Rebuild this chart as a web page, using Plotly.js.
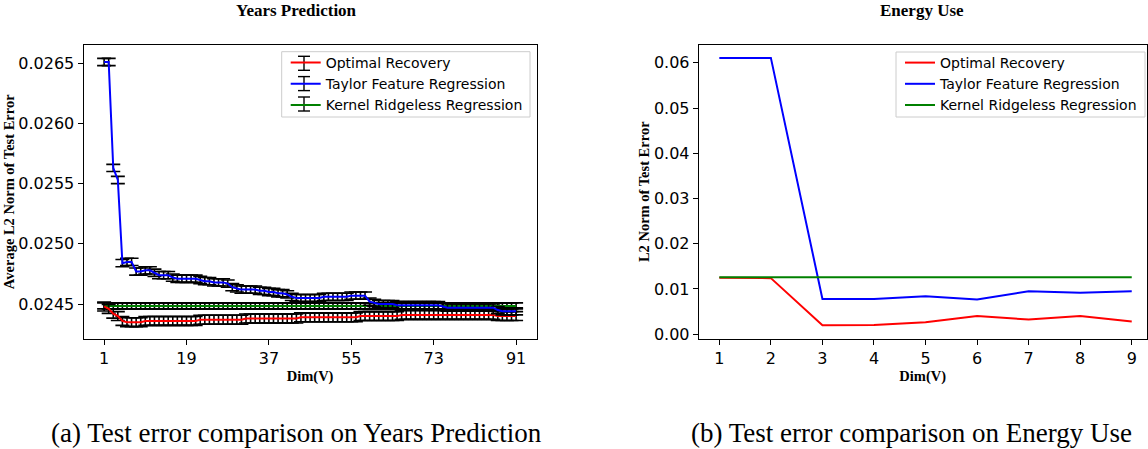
<!DOCTYPE html>
<html>
<head>
<meta charset="utf-8">
<script src="https://cdn.plot.ly/plotly-3.0.1.min.js"></script>
<style>html,body{margin:0;padding:0;background:#fff;}#chart{width:1148px;height:449px;}</style>
</head>
<body>
<div id="chart"></div>
<script>
// ---------- Left panel: Years Prediction ----------
const dimsYears = [1,2,3,4,5,6,7,8,9,10,11,12,13,14,15,16,17,18,19,20,21,22,23,24,25,26,27,28,29,30,
  31,32,33,34,35,36,37,38,39,40,41,42,43,44,45,46,47,48,49,50,51,52,53,54,55,56,57,58,59,60,
  61,62,63,64,65,66,67,68,69,70,71,72,73,74,75,76,77,78,79,80,81,82,83,84,85,86,87,88,89,90,91];

const optimalYears = [0.02448,0.02446,0.02442,0.02440,0.02436,0.02435,
  0.02435,0.02435,0.02435,0.02436,0.02436,0.02436,0.02436,0.02436,0.02436,0.02436,
  0.02436,0.02436,0.02436,0.02436,0.02436,0.02437,0.02437,0.02437,0.02437,0.02437,
  0.02437,0.02437,0.02437,0.02437,0.02437,0.02438,0.02438,0.02438,0.02438,0.02438,
  0.02438,0.02438,0.02438,0.02438,0.02438,0.02438,0.02438,0.02439,0.02439,0.02439,
  0.02439,0.02439,0.02439,0.02439,0.02439,0.02439,0.02439,0.02439,0.02439,0.02439,
  0.02440,0.02440,0.02440,0.02440,0.02440,0.02440,0.02440,0.02440,0.02440,0.02441,
  0.02441,0.02441,0.02441,0.02441,0.02441,0.02441,0.02441,0.02441,0.02441,0.02441,
  0.02441,0.02441,0.02441,0.02441,0.02441,0.02441,0.02441,0.02441,0.02441,0.02441,
  0.02440,0.02440,0.02440,0.02440,0.02440];

const taylorYears = [0.02651,0.02651,0.02563,0.02553,0.02484,0.02485,0.02485,0.02477,0.02477,0.02478,
  0.02478,0.02476,0.02474,0.02474,0.02474,0.02472,0.02471,0.02471,0.02471,0.02471,
  0.02471,0.02470,0.02469,0.02469,0.02468,0.02468,0.02468,0.02467,0.02464,0.02463,
  0.02462,0.02462,0.02462,0.02462,0.02461,0.02461,0.02460,0.02460,0.02459,0.02459,
  0.02458,0.02456,0.02455,0.02455,0.02455,0.02455,0.02455,0.02455,0.02456,0.02456,
  0.02456,0.02456,0.02456,0.02456,0.02457,0.02457,0.02457,0.02457,0.02452,0.02451,
  0.02450,0.02450,0.02450,0.02450,0.02449,0.02449,0.02449,0.02449,0.02449,0.02449,
  0.02449,0.02449,0.02449,0.02449,0.02448,0.02447,0.02447,0.02447,0.02447,0.02447,
  0.02447,0.02447,0.02447,0.02447,0.02447,0.02447,0.02445,0.02444,0.02444,0.02444,0.02444];

const kernelYears = [0.024485,0.024485,0.024485,0.024485,0.024485,0.024485,0.024485,0.024485,0.024485,0.024485,
  0.024485,0.024485,0.024485,0.024485,0.024485,0.024485,0.024485,0.024485,0.024485,0.024485,
  0.024485,0.024485,0.024485,0.024485,0.024485,0.024485,0.024485,0.024485,0.024485,0.024485,
  0.024485,0.024485,0.024485,0.024485,0.024485,0.024485,0.024485,0.024485,0.024485,0.024485,
  0.024485,0.024485,0.024485,0.024485,0.024485,0.024485,0.024485,0.024485,0.024485,0.024485,
  0.024485,0.024485,0.024485,0.024485,0.024485,0.024485,0.024485,0.024485,0.024485,0.024485,
  0.024485,0.024485,0.024485,0.024485,0.024485,0.024485,0.024485,0.024485,0.024485,0.024485,
  0.024485,0.024485,0.024485,0.024485,0.024485,0.024485,0.024485,0.024485,0.024485,0.024485,
  0.024485,0.024485,0.024485,0.024485,0.024485,0.024485,0.024485,0.024485,0.024485,0.024485,0.024485];

// error bar half-lengths (std)
const optimalErr = 0.000037;
const taylorErr = 0.000030;
const kernelErr = 0.000025;

const yearsXTicks = [1,19,37,55,73,91];
const yearsYTicks = [0.0245,0.0250,0.0255,0.0260,0.0265];

// ---------- Right panel: Energy Use ----------
const dimsEnergy = [1,2,3,4,5,6,7,8,9];
const optimalEnergy = [0.0125,0.0124,0.0020,0.00205,0.00265,0.0040,0.00325,0.0040,0.0028];
const taylorEnergy  = [0.0611,0.0611,0.0078,0.0078,0.0084,0.00767,0.0095,0.00915,0.0095];
const kernelEnergy  = [0.0126,0.0126,0.0126,0.0126,0.0126,0.0126,0.0126,0.0126,0.0126];
const energyYTicks = [0.00,0.01,0.02,0.03,0.04,0.05,0.06];

const names = ['Optimal Recovery','Taylor Feature Regression','Kernel Ridgeless Regression'];
const colors = ['#ff0000','#0000ff','#008000'];

function errTrace(x, y, err, name, color, rank) {
  return {
    x: x, y: y, name: name, type: 'scatter', mode: 'lines',
    line: {color: color, width: 2},
    error_y: {type: 'constant', value: err, color: '#000', thickness: 1.6, width: 7},
    xaxis: 'x', yaxis: 'y', legend: 'legend', legendrank: rank
  };
}
function lineTrace(x, y, name, color) {
  return {
    x: x, y: y, name: name, type: 'scatter', mode: 'lines',
    line: {color: color, width: 2},
    xaxis: 'x2', yaxis: 'y2', legend: 'legend2'
  };
}

const data = [
  errTrace(dimsYears, kernelYears, kernelErr, names[2], colors[2], 3),
  errTrace(dimsYears, optimalYears, optimalErr, names[0], colors[0], 1),
  errTrace(dimsYears, taylorYears, taylorErr, names[1], colors[1], 2),
  lineTrace(dimsEnergy, optimalEnergy, names[0], colors[0]),
  lineTrace(dimsEnergy, taylorEnergy, names[1], colors[1]),
  lineTrace(dimsEnergy, kernelEnergy, names[2], colors[2])
];

const W = 1148, H = 449;
const tickFont = {family: 'DejaVu Sans, sans-serif', size: 16, color: '#000'};
const titleFont = {family: 'Liberation Serif, Times New Roman, serif', size: 14.5, color: '#000', weight: 'bold'};

function axisBase() {
  return {
    showline: true, mirror: true, linecolor: '#000', linewidth: 1,
    ticks: 'outside', ticklen: 5, tickwidth: 1, tickcolor: '#000',
    showgrid: false, zeroline: false, tickfont: tickFont, automargin: false
  };
}

const yDom = [(H - 339) / H, (H - 44.5) / H];
const px = v => v / W;
const py = v => 1 - v / H;

// legend boxes drawn as shapes so that the error-bar glyphs can sit inside them
const legRowsY = [63.3, 83.6, 104];
function legendBox(x0, x1, y0, y1) {
  return [{type: 'rect', xref: 'paper', yref: 'paper', x0: px(x0), x1: px(x1), y0: py(y1), y1: py(y0),
    fillcolor: '#fff', line: {color: '#cccccc', width: 1}, layer: 'above'}];
}
function ibeam(cx, cy) {
  return [
    {type: 'line', xref: 'paper', yref: 'paper', x0: px(cx), x1: px(cx), y0: py(cy - 7), y1: py(cy + 7), line: {color: '#000', width: 1.4}, layer: 'above'},
    {type: 'line', xref: 'paper', yref: 'paper', x0: px(cx - 6), x1: px(cx + 6), y0: py(cy - 7), y1: py(cy - 7), line: {color: '#000', width: 1.4}, layer: 'above'},
    {type: 'line', xref: 'paper', yref: 'paper', x0: px(cx - 6), x1: px(cx + 6), y0: py(cy + 7), y1: py(cy + 7), line: {color: '#000', width: 1.4}, layer: 'above'}
  ];
}
let shapes = [];
shapes = shapes.concat(legendBox(281.7, 530, 51.7, 117));
shapes = shapes.concat(legendBox(896, 1145, 52, 117));
legRowsY.forEach(r => { shapes = shapes.concat(ibeam(304, r)); });

const legendFont = {family: 'DejaVu Sans, sans-serif', size: 14, color: '#000'};

const layout = {
  width: W, height: H,
  margin: {l: 0, r: 0, t: 0, b: 0},
  paper_bgcolor: '#fff', plot_bgcolor: '#fff',
  showlegend: true,
  shapes: shapes,
  xaxis: Object.assign(axisBase(), {
    domain: [px(83.5), px(536.7)], range: [-3.5, 95.5],
    tickvals: yearsXTicks, ticktext: yearsXTicks.map(String),
    title: {text: 'Dim(V)', font: titleFont, standoff: 3}
  }),
  yaxis: Object.assign(axisBase(), {
    domain: yDom, range: [0.02421, 0.026655],
    tickvals: yearsYTicks, tickformat: '.4f',
    title: {text: 'Average L2 Norm of Test Error', font: titleFont, standoff: 0}
  }),
  xaxis2: Object.assign(axisBase(), {
    domain: [px(698.7), px(1146.7)], range: [0.6, 9.29], anchor: 'y2',
    tickvals: dimsEnergy,
    title: {text: 'Dim(V)', font: titleFont, standoff: 3}
  }),
  yaxis2: Object.assign(axisBase(), {
    domain: yDom, range: [-0.00106, 0.06406], anchor: 'x2',
    tickvals: energyYTicks, tickformat: '.2f',
    title: {text: 'L2 Norm of Test Error', font: titleFont, standoff: 0}
  }),
  legend: {
    x: px(326.7 - 41), y: py(47), xanchor: 'left', yanchor: 'top',
    bgcolor: 'rgba(0,0,0,0)', borderwidth: 0,
    font: legendFont, traceorder: 'normal'
  },
  legend2: {
    x: px(941 - 41), y: py(47), xanchor: 'left', yanchor: 'top',
    bgcolor: 'rgba(0,0,0,0)', borderwidth: 0,
    font: legendFont, traceorder: 'normal'
  },
  annotations: [
    {text: '<b>Years Prediction</b>', x: px(296), y: py(10), xref: 'paper', yref: 'paper',
     xanchor: 'center', yanchor: 'middle', showarrow: false,
     font: {family: 'Liberation Serif, Times New Roman, serif', size: 17, color: '#000'}},
    {text: '<b>Energy Use</b>', x: px(922), y: py(10), xref: 'paper', yref: 'paper',
     xanchor: 'center', yanchor: 'middle', showarrow: false,
     font: {family: 'Liberation Serif, Times New Roman, serif', size: 17, color: '#000'}},
    {text: '(a) Test error comparison on Years Prediction', x: px(296.5), y: py(433),
     xref: 'paper', yref: 'paper', xanchor: 'center', yanchor: 'middle', showarrow: false,
     font: {family: 'Liberation Serif, Times New Roman, serif', size: 27, color: '#000'}},
    {text: '(b) Test error comparison on Energy Use', x: px(911), y: py(433),
     xref: 'paper', yref: 'paper', xanchor: 'center', yanchor: 'middle', showarrow: false,
     font: {family: 'Liberation Serif, Times New Roman, serif', size: 27, color: '#000'}}
  ]
};

Plotly.newPlot('chart', data, layout, {displayModeBar: false, staticPlot: true});
</script>
</body>
</html>
